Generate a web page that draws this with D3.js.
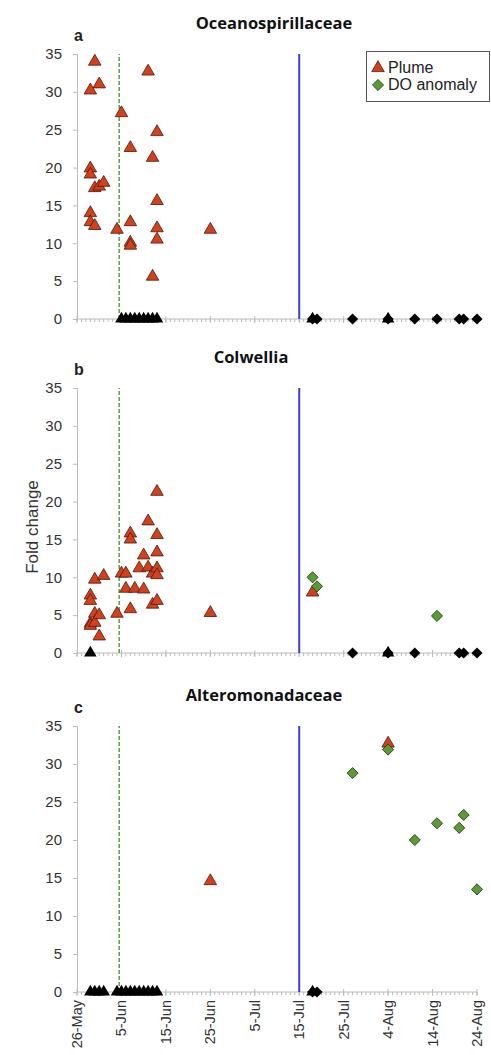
<!DOCTYPE html>
<html>
<head>
<meta charset="utf-8">
<script src="https://cdn.jsdelivr.net/npm/d3@7"></script>
<style>
  body { margin: 0; background: #fff; }
  svg { display: block; }
</style>
</head>
<body>
<div id="chart"></div>
<script>
const W = 491, H = 1055

const panelTitles = ["Oceanospirillaceae", "Colwellia", "Alteromonadaceae"]
const panelLetters = ["a", "b", "c"]
const xTickLabels = ["26-May", "5-Jun", "15-Jun", "25-Jun", "5-Jul", "15-Jul", "25-Jul", "4-Aug", "14-Aug", "24-Aug"]
const yTicks = [0, 5, 10, 15, 20, 25, 30, 35]
const dashedLineDate = "2010-06-04T12:00"
const solidLineDate = "2010-07-15"

// plume samples with a fold change (date, value)
const plumeA = [
  ["05-29", 30.2], ["05-29", 19.9], ["05-29", 19.1], ["05-29", 14.0], ["05-29", 12.8],
  ["05-30", 34.0], ["05-30", 17.3], ["05-30", 12.3],
  ["05-31", 31.0], ["05-31", 17.5], ["06-01", 18.0], ["06-04", 11.8], ["06-05", 27.2],
  ["06-07", 22.6], ["06-07", 12.8], ["06-07", 10.1], ["06-07", 9.7],
  ["06-11", 32.7], ["06-12", 21.3], ["06-12", 5.6],
  ["06-13", 24.7], ["06-13", 15.6], ["06-13", 12.0], ["06-13", 10.5],
  ["06-25", 11.8]
]
const plumeB = [
  ["05-29", 7.6], ["05-29", 6.9], ["05-29", 3.9], ["05-29", 3.6],
  ["05-30", 9.7], ["05-30", 5.2], ["05-30", 4.0],
  ["05-31", 5.0], ["05-31", 2.2], ["06-01", 10.2], ["06-04", 5.2], ["06-05", 10.5],
  ["06-06", 10.5], ["06-06", 8.5], ["06-07", 15.8], ["06-07", 15.0], ["06-07", 5.8],
  ["06-08", 8.5], ["06-09", 11.2], ["06-10", 12.9], ["06-10", 8.4],
  ["06-11", 17.4], ["06-11", 11.3], ["06-12", 10.5], ["06-12", 6.4],
  ["06-13", 21.3], ["06-13", 15.6], ["06-13", 13.3], ["06-13", 11.2], ["06-13", 10.3], ["06-13", 6.9],
  ["06-25", 5.3], ["07-18", 8.0]
]
const plumeC = [["06-25", 14.6], ["08-04", 32.7]]

// DO anomaly samples with a fold change
const doA = []
const doB = [["07-18", 10.0], ["07-19", 8.8], ["08-15", 4.9]]
const doC = [["07-27", 28.8], ["08-04", 31.9], ["08-10", 20.0], ["08-15", 22.2], ["08-20", 21.6], ["08-21", 23.3], ["08-24", 13.5]]

// samples where the taxon was not found (drawn black at 0)
const plumeZeroA = ["06-05", "06-06", "06-07", "06-08", "06-09", "06-10", "06-11", "06-12", "06-13", "07-18", "08-04"]
const plumeZeroB = ["05-29", "08-04"]
const plumeZeroC = ["05-29", "05-30", "05-31", "06-01", "06-04", "06-05", "06-06", "06-07", "06-08", "06-09", "06-10", "06-11", "06-12", "06-13", "07-18"]
const doZeroA = ["07-18", "07-19", "07-27", "08-04", "08-10", "08-15", "08-20", "08-21", "08-24"]
const doZeroB = ["07-27", "08-04", "08-10", "08-20", "08-21", "08-24"]
const doZeroC = ["07-18", "07-19"]

const panels = [
  { plume: plumeA, dO: doA, plumeZero: plumeZeroA, doZero: doZeroA, top: 54, bottom: 319, titleX: 274 },
  { plume: plumeB, dO: doB, plumeZero: plumeZeroB, doZero: doZeroB, top: 388, bottom: 653, titleX: 251 },
  { plume: plumeC, dO: doC, plumeZero: plumeZeroC, doZero: doZeroC, top: 726, bottom: 992, titleX: 264 }
]

const parse = d3.utcParse("%Y-%m-%d")
const day = s => parse("2010-" + s)

const x = d3.scaleUtc()
  .domain([parse("2010-05-26"), parse("2010-08-24")])
  .range([77, 477])

const triangle = d3.symbol(d3.symbolTriangle, 68)
const diamond = d3.symbol(d3.symbolSquare, 62)

const svg = d3.select("#chart").append("svg").attr("width", W).attr("height", H)

const font = "'Liberation Sans', Arial, sans-serif"
const titleFont = "'Open Sans', sans-serif"

panels.forEach((p, i) => {
  const y = d3.scaleLinear().domain([0, 35]).range([p.bottom, p.top])
  const g = svg.append("g")

  // title + panel letter
  g.append("text")
    .attr("x", p.titleX).attr("y", p.top - 25)
    .attr("text-anchor", "middle")
    .style("font-family", titleFont).style("font-weight", 700).style("font-size", "16.5px")
    .attr("fill", "#111")
    .text(panelTitles[i])
  g.append("text")
    .attr("x", 74).attr("y", p.top - 13)
    .style("font-family", font).style("font-weight", 700).style("font-size", "16px")
    .attr("fill", "#222")
    .text(panelLetters[i])

  // y axis
  const yAxis = d3.axisLeft(y).tickValues(yTicks).tickSize(4).tickPadding(11)
  const ya = g.append("g").attr("transform", "translate(77,0)").call(yAxis)
  ya.select(".domain").attr("stroke", "#bbb")
  ya.selectAll(".tick line").attr("stroke", "#bbb")
  ya.selectAll(".tick text").style("font-family", font).style("font-size", "15px").attr("fill", "#333")

  // x axis: daily minor ticks, 10-day major ticks
  const majors = d3.range(0, 10).map(k => d3.utcDay.offset(x.domain()[0], k * 10))
  const minors = d3.utcDay.range(x.domain()[0], d3.utcDay.offset(x.domain()[1], 1))
  const xa = g.append("g")
  xa.append("line")
    .attr("x1", x.range()[0]).attr("x2", x.range()[1])
    .attr("y1", p.bottom).attr("y2", p.bottom)
    .attr("stroke", "#bbb")
  xa.selectAll(".minor").data(minors).enter().append("line")
    .attr("x1", d => x(d)).attr("x2", d => x(d))
    .attr("y1", p.bottom).attr("y2", p.bottom + 3)
    .attr("stroke", "#bbb")
  xa.selectAll(".major").data(majors).enter().append("line")
    .attr("x1", d => x(d)).attr("x2", d => x(d))
    .attr("y1", p.bottom - 3).attr("y2", p.bottom + 4)
    .attr("stroke", "#bbb")
  if (i === 2) {
    xa.selectAll(".lab").data(majors).enter().append("text")
      .attr("transform", d => `translate(${x(d) + 5},${p.bottom + 8}) rotate(-90)`)
      .attr("text-anchor", "end")
      .style("font-family", font).style("font-size", "14.5px").attr("fill", "#333")
      .text((d, k) => xTickLabels[k])
  }

  // reference lines
  const dashX = x(new Date(dashedLineDate + "Z"))
  g.append("line")
    .attr("x1", dashX).attr("x2", dashX)
    .attr("y1", y(0)).attr("y2", y(35))
    .attr("stroke", "#62a446").attr("stroke-width", 1.6).attr("stroke-dasharray", "4,2")
  g.append("line")
    .attr("x1", x(parse(solidLineDate))).attr("x2", x(parse(solidLineDate)))
    .attr("y1", y(0)).attr("y2", y(35))
    .attr("stroke", "#3c3ce0").attr("stroke-width", 2)

  // zero samples
  g.selectAll(".pz").data(p.plumeZero).enter().append("path")
    .attr("d", triangle)
    .attr("transform", d => `translate(${x(day(d))},${y(0)})`)
    .attr("fill", "#000")
  g.selectAll(".dz").data(p.doZero).enter().append("path")
    .attr("d", diamond)
    .attr("transform", d => `translate(${x(day(d))},${y(0)}) rotate(45)`)
    .attr("fill", "#000")

  // plume and DO samples
  g.selectAll(".plume").data(p.plume).enter().append("path")
    .attr("d", triangle)
    .attr("transform", d => `translate(${x(day(d[0]))},${y(d[1])})`)
    .attr("fill", "#d2401e").attr("stroke", "#4a1a0a").attr("stroke-width", 0.8)
  g.selectAll(".do").data(p.dO).enter().append("path")
    .attr("d", diamond)
    .attr("transform", d => `translate(${x(day(d[0]))},${y(d[1])}) rotate(45)`)
    .attr("fill", "#5b9a34").attr("stroke", "#1e3a10").attr("stroke-width", 0.8)
})

// y axis title
svg.append("text")
  .attr("transform", "translate(38,527) rotate(-90)")
  .attr("text-anchor", "middle")
  .style("font-family", font).style("font-size", "17px").attr("fill", "#333")
  .text("Fold change")

// legend
const lg = svg.append("g")
lg.append("rect")
  .attr("x", 366.5).attr("y", 51.5).attr("width", 123).attr("height", 50)
  .attr("fill", "#fff").attr("stroke", "#555")
const legendItems = [["Plume", "tri"], ["DO anomaly", "dia"]]
legendItems.forEach((it, k) => {
  const cy = 68 + k * 17
  lg.append("path")
    .attr("d", it[1] === "tri" ? triangle : diamond)
    .attr("transform", `translate(378,${cy})` + (it[1] === "dia" ? " rotate(45)" : ""))
    .attr("fill", it[1] === "tri" ? "#d2401e" : "#5b9a34")
    .attr("stroke", it[1] === "tri" ? "#4a1a0a" : "#1e3a10").attr("stroke-width", 0.8)
  lg.append("text")
    .attr("x", 388).attr("y", cy + 5)
    .style("font-family", font).style("font-size", "16px").attr("fill", "#222")
    .text(it[0])
})
</script>
</body>
</html>
